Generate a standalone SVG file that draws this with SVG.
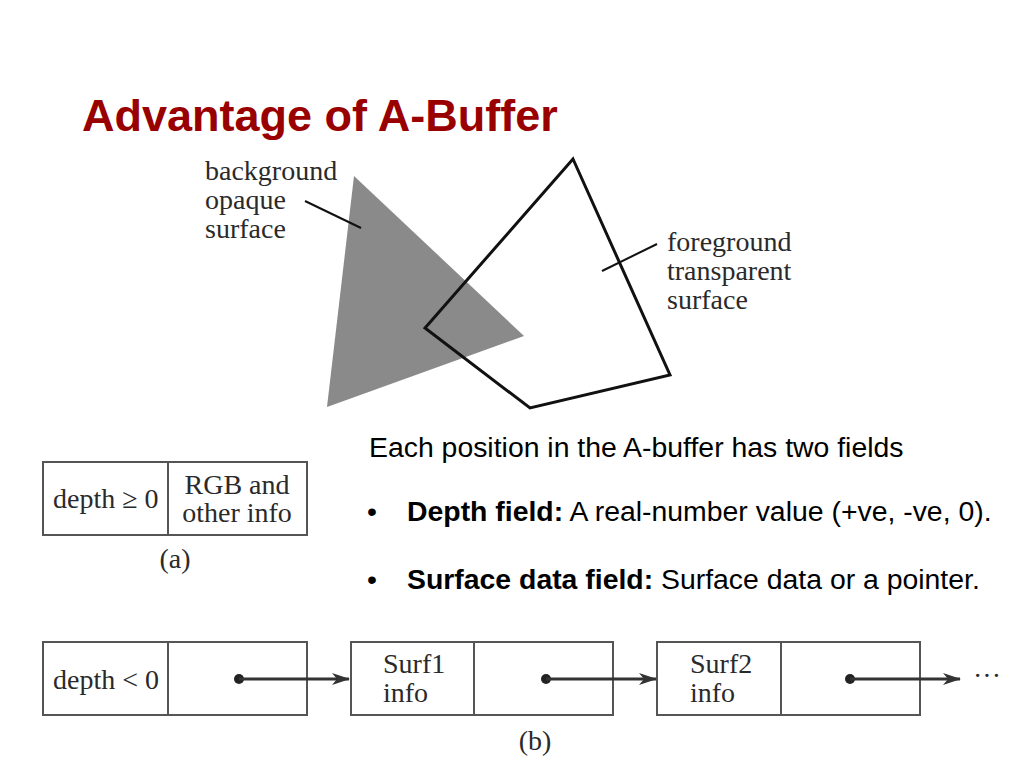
<svg xmlns="http://www.w3.org/2000/svg" width="1024" height="768" viewBox="0 0 1024 768">
<style>
.serif{font-family:"Liberation Serif","Times New Roman",serif;font-size:28px;fill:#2a2a2a}
.sans{font-family:"Liberation Sans",Arial,sans-serif;font-size:28.4px;fill:#000}
.title{font-family:"Liberation Sans",Arial,sans-serif;font-size:45px;font-weight:bold;fill:#990000}
.box{fill:#fff;stroke:#555;stroke-width:2}
.div{stroke:#555;stroke-width:2}
.ptr{stroke:#333;stroke-width:3;fill:none}
.dot{fill:#222}
.lead{stroke:#111;stroke-width:2}
</style>
<defs>
<marker id="ah" markerWidth="18" markerHeight="12" refX="17" refY="6" orient="auto" markerUnits="userSpaceOnUse">
<path d="M0,0 L18,6 L0,12 L5,6 Z" fill="#333"/>
</marker>
</defs>
<rect width="1024" height="768" fill="#fff"/>
<text class="title" x="82" y="131">Advantage of A-Buffer</text>

<g id="surfaces">
<polygon points="354,176 524,336 327,407" fill="#8a8a8a"/>
<polygon points="573,159 670,375 530,408 425,328" fill="none" stroke="#111" stroke-width="3" stroke-linejoin="miter"/>
<line class="lead" x1="305" y1="201" x2="361" y2="228"/>
<line class="lead" x1="602" y1="271" x2="657" y2="244"/>
<text class="serif" x="205" y="180">background</text>
<text class="serif" x="205" y="209">opaque</text>
<text class="serif" x="205" y="238">surface</text>
<text class="serif" x="667" y="251">foreground</text>
<text class="serif" x="667" y="280">transparent</text>
<text class="serif" x="667" y="309">surface</text>
</g>

<g id="desc">
<text class="sans" x="369" y="457">Each position in the A-buffer has two fields</text>
<text class="sans" x="367" y="521">•</text>
<text class="sans" x="407" y="521"><tspan font-weight="bold">Depth field:</tspan> A real-number value (+ve, -ve, 0).</text>
<text class="sans" x="367" y="589">•</text>
<text class="sans" x="407" y="589"><tspan font-weight="bold">Surface data field:</tspan> Surface data or a pointer.</text>
</g>

<g id="cell-a">
<rect class="box" x="43" y="462" width="264" height="73"/>
<line class="div" x1="168" y1="462" x2="168" y2="535"/>
<text class="serif" x="53" y="508">depth ≥ 0</text>
<text class="serif" x="237" y="494" text-anchor="middle">RGB and</text>
<text class="serif" x="237" y="522" text-anchor="middle">other info</text>
<text class="serif" x="175" y="568" text-anchor="middle">(a)</text>
</g>

<g id="cell-b">
<rect class="box" x="43" y="642" width="264" height="73"/>
<line class="div" x1="168" y1="642" x2="168" y2="715"/>
<text class="serif" x="53" y="689">depth &lt; 0</text>
<circle class="dot" cx="239" cy="679" r="5"/>
</g>

<g id="surf1">
<rect class="box" x="351" y="642" width="262" height="73"/>
<line class="div" x1="474" y1="642" x2="474" y2="715"/>
<text class="serif" x="383" y="673">Surf1</text>
<text class="serif" x="383" y="702">info</text>
<circle class="dot" cx="546" cy="679" r="5"/>
</g>

<g id="surf2">
<rect class="box" x="657" y="642" width="263" height="73"/>
<line class="div" x1="781" y1="642" x2="781" y2="715"/>
<text class="serif" x="690" y="673">Surf2</text>
<text class="serif" x="690" y="702">info</text>
<circle class="dot" cx="850" cy="679" r="5"/>
<text class="serif" x="973" y="685" font-size="30">···</text>
</g>

<g id="connectors">
<line class="ptr" x1="239" y1="679" x2="349" y2="679" marker-end="url(#ah)"/>
<line class="ptr" x1="546" y1="679" x2="656" y2="679" marker-end="url(#ah)"/>
<line class="ptr" x1="850" y1="679" x2="960" y2="679" marker-end="url(#ah)"/>
</g>

<text class="serif" x="535" y="750" text-anchor="middle">(b)</text>
</svg>
